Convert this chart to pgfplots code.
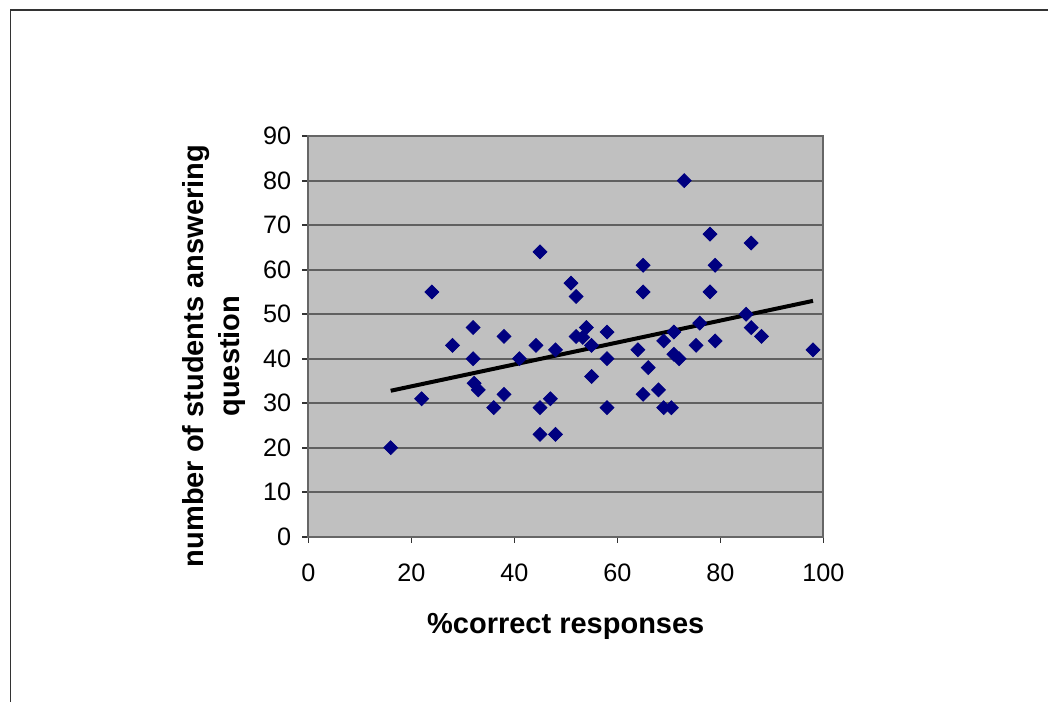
\documentclass[border=0pt]{standalone}
\usepackage{pgfplots}
\pgfplotsset{compat=1.18}
\usepackage{fontspec}
\setmainfont{Liberation Sans}
\definecolor{plotbg}{HTML}{C0C0C0}
\definecolor{gridc}{HTML}{606060}
\definecolor{navy}{HTML}{000080}
\begin{document}
\begin{tikzpicture}
\useasboundingbox (0,0) rectangle (524pt,351pt);
\draw[line width=0.8pt, black!80] (5.2pt,0pt) -- (5.2pt,346pt) -- (524pt,346pt);
\begin{axis}[
  at={(154.15pt,82.65pt)}, anchor=south west,
  scale only axis, width=257.5pt, height=200.25pt,
  xmin=0, xmax=100, ymin=0, ymax=90,
  xtick={0,20,...,100}, ytick={0,10,...,90},
  xtick pos=bottom, ytick pos=left,
  tick align=outside, major tick length=3pt,
  tick style={black!80, line width=0.8pt},
  axis background/.style={fill=plotbg},
  ymajorgrids, grid style={draw=gridc, line width=0.9pt},
  axis line style={draw=black!60, line width=0.9pt},
  /pgf/number format/assume math mode=true,
  tick label style={font=\fontsize{12.6}{14}\selectfont},
  yticklabel style={xshift=-2pt},
  xticklabel style={yshift=-7pt},
  xlabel={\%correct responses},
  xlabel style={at={(axis description cs:0.5,-0.225)}, anchor=center, font=\fontsize{14.5}{17}\selectfont\bfseries},
  ylabel={number of students answering\\question},
  ylabel style={at={(axis description cs:-0.183,0.451)}, anchor=center, rotate=0, align=center, font=\fontsize{14.5}{18}\selectfont\bfseries},
]
\addplot[only marks, mark=square*, mark size=2.45pt, mark options={rotate=45, fill=navy, draw=navy}] table {
x y
16 20
22 31
24 55
28 43
32 47
32 40
32.2 34.5
33 33
36 29
38 32
38 45
41 40
44.2 43
45 64
45 29
45 23
47 31
48 23
48 42
51 57
52 54
52 45
53.3 44.8
54 47
55 43
55 36
58 46
58 40
58 29
64 42
65 61
65 55
65 32
66 38
68 33
69 44
69 29
70.5 29
71 46
71 41
72 40
73 80
75.3 43
76 48
78 68
78 55
79 61
79 44
85 50
86 66
86 47
88 45
98 42
};
\addplot[black, line width=2pt] coordinates {(16,32.8) (98,53)};
\end{axis}
\end{tikzpicture}
\end{document}
